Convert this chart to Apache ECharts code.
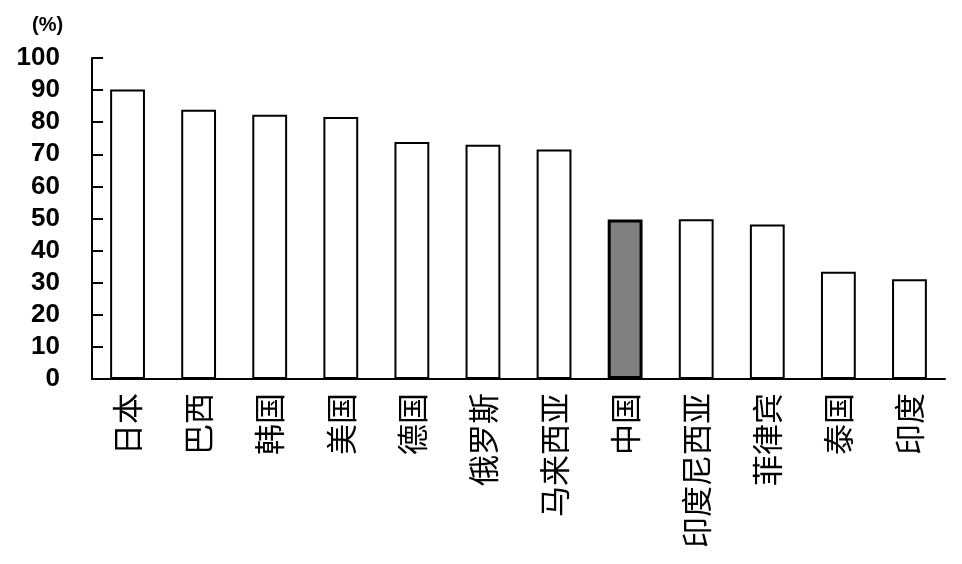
<!DOCTYPE html>
<html>
<head>
<meta charset="utf-8">
<script src="https://cdn.jsdelivr.net/npm/echarts@6/dist/echarts.min.js"></script>
<style>html,body{margin:0;padding:0;background:#fff}#c{width:962px;height:564px}</style>
</head>
<body>
<div id="c"></div>
<script>
const categories = ['日本','巴西','韩国','美国','德国','俄罗斯','马来西亚','中国','印度尼西亚','菲律宾','泰国','印度'];
const values = [90.2, 83.9, 82.3, 81.6, 73.8, 73.0, 71.5, 49.7, 49.8, 48.1, 33.4, 31.1];
const highlight = '中国';
const yTicks = [0,10,20,30,40,50,60,70,80,90,100];

const chart = echarts.init(document.getElementById('c'));
chart.setOption({
  animation: false,
  backgroundColor: '#fff',
  title: {
    text: '(%)', left: 27, top: 10,
    textStyle: { fontSize: 20, fontWeight: 'bold', color: '#000', fontFamily: 'Liberation Sans' }
  },
  grid: { left: 92, right: 17, top: 58, bottom: 185, containLabel: false },
  xAxis: {
    type: 'category',
    data: categories,
    boundaryGap: true,
    axisLine: { lineStyle: { color: '#000', width: 2 } },
    axisTick: { inside: true, length: 7, lineStyle: { color: '#000', width: 2 } },
    axisLabel: {
      rotate: 90, margin: 14, color: '#000', fontSize: 31,
      fontFamily: 'Noto Sans CJK SC', interval: 0
    },
    splitLine: { show: false }
  },
  yAxis: {
    type: 'value', min: yTicks[0], max: yTicks[yTicks.length-1], interval: 10,
    axisLine: { show: true, lineStyle: { color: '#000', width: 2 } },
    axisTick: { show: true, inside: true, length: 11, lineStyle: { color: '#000', width: 2 } },
    axisLabel: { margin: 32, color: '#000', fontSize: 26, fontWeight: 'bold', fontFamily: 'Liberation Sans' },
    splitLine: { show: false }
  },
  series: [{
    type: 'bar',
    barWidth: '49%',
    data: values.map((v, i) => categories[i] === highlight
      ? { value: v, itemStyle: { color: '#808080', borderColor: '#000', borderWidth: 3 } }
      : { value: v }),
    itemStyle: { color: '#fff', borderColor: '#000', borderWidth: 2 }
  }]
});
</script>
</body>
</html>
